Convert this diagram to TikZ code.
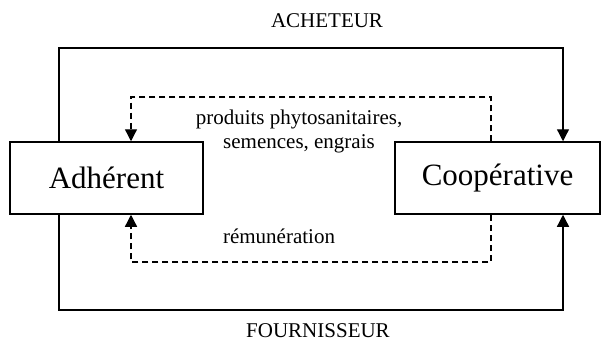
\documentclass[tikz,border=0pt]{standalone}
\usepackage{fontspec}
\setmainfont{Liberation Serif}
\usetikzlibrary{arrows.meta}
\begin{document}
\begin{tikzpicture}[>={Triangle[length=12pt,width=12pt]},x=1pt,y=-1pt,
	box/.style={draw,line width=1.5pt,minimum height=72pt,inner sep=0pt,font=\fontsize{31}{36}\selectfont},
	lbl/.style={anchor=base,inner sep=0pt,font=\fontsize{21}{24}\selectfont},
	flow/.style={->,line width=1.3pt},
	dflow/.style={->,line width=1.3pt,dash pattern=on 6pt off 4pt}]
		\useasboundingbox (0,0) rectangle (601,342);
		\node[box,minimum width=193pt] (adh) at (106.5,178) {Adhérent};
		\node[box,minimum width=205pt] (coop) at (497.5,178) {Coopérative};
		\coordinate (aL) at (59,48); \coordinate (aR) at (563,48);
		\coordinate (fL) at (59,310); \coordinate (fR) at (563,310);
		\coordinate (pL) at (131,97); \coordinate (pR) at (491,97);
		\coordinate (rL) at (131,262); \coordinate (rR) at (491,262);
		\draw[flow] (adh.north -| aL) -- (aL) -- (aR) -- (coop.north -| aR);
		\draw[flow] (adh.south -| fL) -- (fL) -- (fR) -- (coop.south -| fR);
		\draw[dflow] (coop.north -| pR) -- (pR) -- (pL) -- (adh.north -| pL);
		\draw[dflow] (coop.south -| rR) -- (rR) -- (rL) -- (adh.south -| rL);
		\node[lbl] (acheteur) at (327,28) {ACHETEUR};
		\node[lbl] (fournisseur) at (318,337) {FOURNISSEUR};
		\node[lbl] (produits) at (299,124) {produits phytosanitaires,};
		\node[lbl] (semences) at (299,148) {semences, engrais};
		\node[lbl] (remun) at (279,243) {rémunération};
\end{tikzpicture}
\end{document}
